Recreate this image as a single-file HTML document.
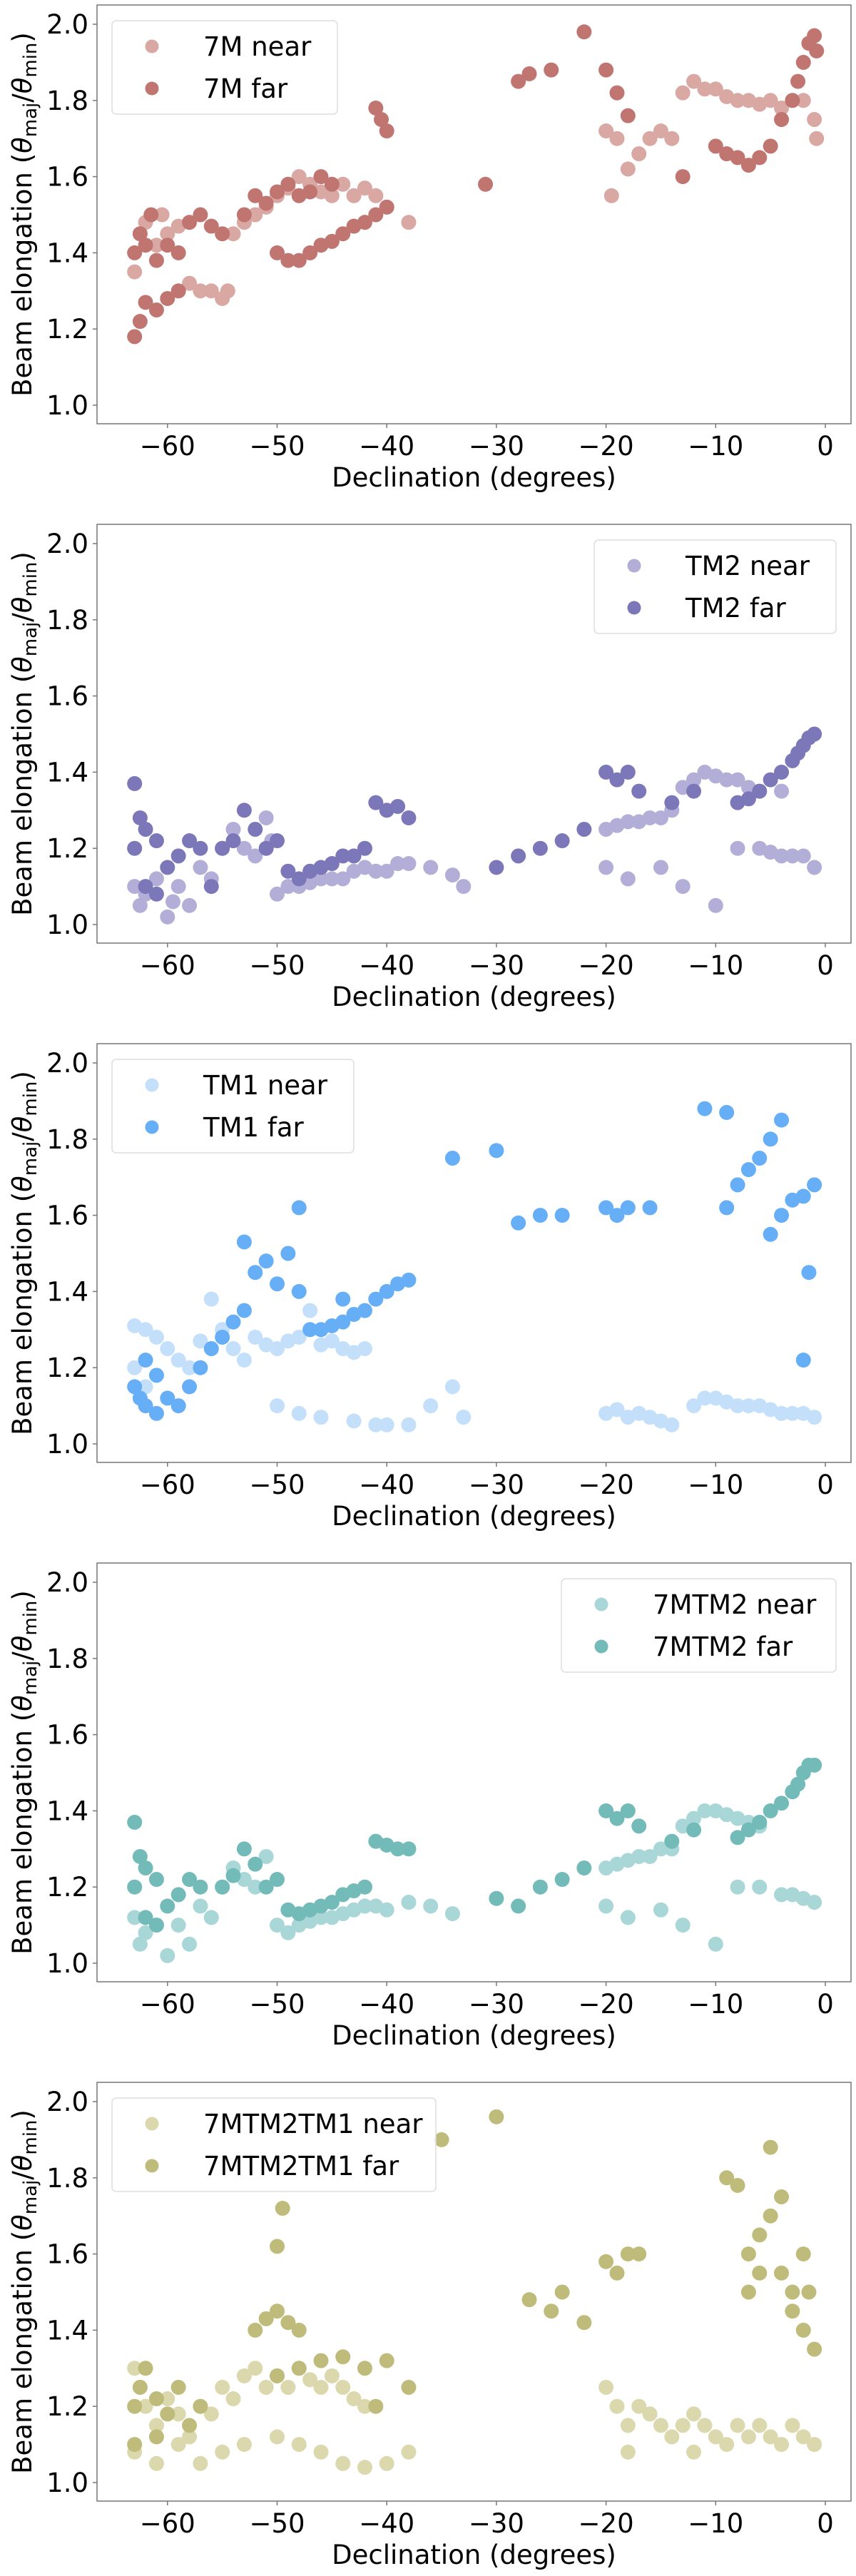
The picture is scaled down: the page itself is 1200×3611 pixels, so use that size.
<!DOCTYPE html>
<html><head><meta charset="utf-8">
<style>
body{margin:0;background:#fff;}
svg{display:block;font-family:"DejaVu Sans","Liberation Sans",sans-serif;}
</style></head>
<body>
<svg id="fig" width="1200" height="3611" viewBox="0 0 1200 3611" xmlns="http://www.w3.org/2000/svg"></svg>
<script>
const xTicks=[-60,-50,-40,-30,-20,-10,0];
const yTicks=[1.0,1.2,1.4,1.6,1.8,2.0];
const panelNames=["7M","TM2","TM1","7MTM2","7MTM2TM1"];
const nearColors=["#d9a8a3","#b3aed8","#c3dffa","#a9d6d6","#dbd8ae"];
const farColors=["#c07571","#7b77b9","#66aef6","#72bbb8","#bfbb7a"];
const legendRight=[false,true,false,true,false];

const near7M=[[-63,1.35],[-62.5,1.45],[-62,1.48],[-61,1.42],[-60.5,1.5],[-60,1.45],[-59,1.47],[-58,1.32],[-57,1.3],[-56,1.3],[-55,1.28],[-54.5,1.3],[-54,1.45],[-53,1.48],[-52,1.5],[-51,1.52],[-50,1.55],[-49,1.57],[-48,1.6],[-47,1.58],[-46,1.56],[-45,1.55],[-44,1.58],[-43,1.55],[-42,1.57],[-41,1.55],[-40,1.52],[-38,1.48],[-20,1.72],[-19.5,1.55],[-19,1.7],[-18,1.62],[-17,1.66],[-16,1.7],[-15,1.72],[-14,1.7],[-13,1.82],[-12,1.85],[-11,1.83],[-10,1.83],[-9,1.81],[-8,1.8],[-7,1.8],[-6,1.79],[-5,1.8],[-4,1.78],[-3,1.8],[-2,1.8],[-1,1.75],[-0.8,1.7]];
const far7M=[[-63,1.4],[-62.5,1.45],[-62,1.42],[-61.5,1.5],[-61,1.38],[-60,1.42],[-59,1.4],[-58,1.48],[-57,1.5],[-56,1.47],[-55,1.45],[-63,1.18],[-62.5,1.22],[-62,1.27],[-61,1.25],[-60,1.28],[-59,1.3],[-53,1.5],[-52,1.55],[-51,1.53],[-50,1.56],[-49,1.58],[-48,1.55],[-47,1.56],[-46,1.6],[-45,1.58],[-50,1.4],[-49,1.38],[-48,1.38],[-47,1.4],[-46,1.42],[-45,1.43],[-44,1.45],[-43,1.47],[-42,1.48],[-41,1.5],[-40,1.52],[-41,1.78],[-40.5,1.75],[-40,1.72],[-31,1.58],[-28,1.85],[-27,1.87],[-25,1.88],[-22,1.98],[-20,1.88],[-19,1.82],[-18,1.76],[-13,1.6],[-10,1.68],[-9,1.66],[-8,1.65],[-7,1.63],[-6,1.65],[-5,1.68],[-4,1.75],[-3,1.8],[-2.5,1.85],[-2,1.9],[-1.5,1.95],[-1,1.97],[-0.8,1.93]];

const nearTM2=[[-63,1.1],[-62.5,1.05],[-62,1.08],[-61,1.12],[-60,1.02],[-59.5,1.06],[-59,1.1],[-58,1.05],[-57,1.15],[-56,1.12],[-55,1.2],[-54,1.25],[-53,1.2],[-52,1.18],[-51,1.28],[-50.5,1.22],[-50,1.08],[-49,1.1],[-48,1.1],[-47,1.11],[-46,1.12],[-45,1.12],[-44,1.12],[-43,1.14],[-42,1.15],[-41,1.14],[-40,1.14],[-39,1.16],[-38,1.16],[-36,1.15],[-34,1.13],[-33,1.1],[-20,1.25],[-19,1.26],[-18,1.27],[-17,1.27],[-16,1.28],[-15,1.28],[-14,1.3],[-13,1.36],[-12,1.38],[-11,1.4],[-10,1.39],[-9,1.38],[-8,1.38],[-7,1.36],[-6,1.35],[-4,1.35],[-20,1.15],[-18,1.12],[-15,1.15],[-13,1.1],[-10,1.05],[-8,1.2],[-6,1.2],[-5,1.19],[-4,1.18],[-3,1.18],[-2,1.18],[-1,1.15]];
const farTM2=[[-63,1.2],[-62.5,1.28],[-62,1.25],[-61,1.22],[-60,1.15],[-59,1.18],[-58,1.22],[-57,1.2],[-63,1.37],[-62,1.1],[-61,1.08],[-56,1.1],[-55,1.2],[-54,1.22],[-53,1.3],[-52,1.25],[-51,1.2],[-50,1.22],[-49,1.14],[-48,1.12],[-47,1.14],[-46,1.15],[-45,1.16],[-44,1.18],[-43,1.18],[-42,1.2],[-41,1.32],[-40,1.3],[-39,1.31],[-38,1.28],[-30,1.15],[-28,1.18],[-26,1.2],[-24,1.22],[-22,1.25],[-20,1.4],[-19,1.38],[-18,1.4],[-17,1.35],[-14,1.32],[-12,1.35],[-8,1.32],[-7,1.33],[-6,1.35],[-5,1.38],[-4,1.4],[-3,1.43],[-2.5,1.45],[-2,1.47],[-1.5,1.49],[-1,1.5]];

const nearTM1=[[-63,1.31],[-62,1.3],[-61,1.28],[-60,1.25],[-59,1.22],[-58,1.2],[-57,1.27],[-56,1.38],[-55,1.3],[-54,1.25],[-53,1.22],[-52,1.28],[-51,1.26],[-50,1.25],[-49,1.27],[-48,1.28],[-47,1.35],[-46,1.26],[-45,1.27],[-44,1.25],[-43,1.24],[-42,1.25],[-63,1.2],[-62,1.15],[-50,1.1],[-48,1.08],[-46,1.07],[-43,1.06],[-41,1.05],[-40,1.05],[-38,1.05],[-36,1.1],[-34,1.15],[-33,1.07],[-20,1.08],[-19,1.09],[-18,1.07],[-17,1.08],[-16,1.07],[-15,1.06],[-14,1.05],[-12,1.1],[-11,1.12],[-10,1.12],[-9,1.11],[-8,1.1],[-7,1.1],[-6,1.1],[-5,1.09],[-4,1.08],[-3,1.08],[-2,1.08],[-1,1.07]];
const farTM1=[[-63,1.15],[-62.5,1.12],[-62,1.1],[-61,1.08],[-60,1.12],[-62,1.22],[-61,1.18],[-59,1.1],[-58,1.15],[-57,1.2],[-56,1.25],[-55,1.28],[-54,1.32],[-53,1.35],[-52,1.45],[-51,1.48],[-50,1.42],[-49,1.5],[-53,1.53],[-48,1.4],[-47,1.3],[-46,1.3],[-45,1.31],[-44,1.32],[-43,1.34],[-42,1.35],[-41,1.38],[-40,1.4],[-39,1.42],[-38,1.43],[-48,1.62],[-44,1.38],[-34,1.75],[-30,1.77],[-28,1.58],[-26,1.6],[-24,1.6],[-20,1.62],[-19,1.6],[-18,1.62],[-16,1.62],[-11,1.88],[-9,1.87],[-9,1.62],[-8,1.68],[-7,1.72],[-6,1.75],[-5,1.8],[-4,1.85],[-5,1.55],[-4,1.6],[-3,1.64],[-2,1.65],[-1,1.68],[-1.5,1.45],[-2,1.22]];

const near7MTM2=[[-63,1.12],[-62.5,1.05],[-62,1.08],[-61,1.1],[-60,1.02],[-59,1.1],[-58,1.05],[-57,1.15],[-56,1.12],[-55,1.2],[-54,1.25],[-53,1.22],[-52,1.2],[-51,1.28],[-50,1.1],[-49,1.08],[-48,1.1],[-47,1.11],[-46,1.12],[-45,1.12],[-44,1.13],[-43,1.14],[-42,1.15],[-41,1.15],[-40,1.14],[-38,1.16],[-36,1.15],[-34,1.13],[-20,1.25],[-19,1.26],[-18,1.27],[-17,1.28],[-16,1.28],[-15,1.3],[-14,1.3],[-13,1.36],[-12,1.38],[-11,1.4],[-10,1.4],[-9,1.39],[-8,1.38],[-7,1.37],[-6,1.36],[-20,1.15],[-18,1.12],[-15,1.14],[-13,1.1],[-10,1.05],[-8,1.2],[-6,1.2],[-4,1.18],[-3,1.18],[-2,1.17],[-1,1.16]];
const far7MTM2=[[-63,1.2],[-62.5,1.28],[-62,1.25],[-61,1.22],[-60,1.15],[-59,1.18],[-58,1.22],[-57,1.2],[-63,1.37],[-62,1.12],[-61,1.1],[-55,1.2],[-54,1.23],[-53,1.3],[-52,1.26],[-51,1.2],[-50,1.22],[-49,1.14],[-48,1.13],[-47,1.14],[-46,1.15],[-45,1.16],[-44,1.18],[-43,1.19],[-42,1.2],[-41,1.32],[-40,1.31],[-39,1.3],[-38,1.3],[-30,1.17],[-28,1.15],[-26,1.2],[-24,1.22],[-22,1.25],[-20,1.4],[-19,1.38],[-18,1.4],[-17,1.36],[-14,1.32],[-12,1.35],[-8,1.33],[-7,1.35],[-6,1.37],[-5,1.4],[-4,1.42],[-3,1.45],[-2.5,1.47],[-2,1.5],[-1.5,1.52],[-1,1.52]];

const near7MTM2TM1=[[-63,1.3],[-62.5,1.25],[-62,1.2],[-61,1.15],[-60,1.22],[-59,1.18],[-58,1.12],[-57,1.2],[-56,1.18],[-55,1.25],[-54,1.22],[-53,1.28],[-52,1.3],[-51,1.25],[-50,1.28],[-49,1.25],[-48,1.3],[-47,1.27],[-46,1.25],[-45,1.28],[-44,1.25],[-43,1.22],[-42,1.2],[-63,1.08],[-61,1.05],[-59,1.1],[-57,1.05],[-55,1.08],[-53,1.1],[-50,1.12],[-48,1.1],[-46,1.08],[-44,1.05],[-42,1.04],[-40,1.05],[-38,1.08],[-20,1.25],[-19,1.2],[-18,1.15],[-17,1.2],[-16,1.18],[-15,1.15],[-14,1.12],[-13,1.15],[-12,1.18],[-11,1.15],[-10,1.12],[-9,1.1],[-8,1.15],[-7,1.12],[-6,1.15],[-5,1.12],[-4,1.1],[-3,1.15],[-2,1.12],[-1,1.1],[-18,1.08],[-12,1.08]];
const far7MTM2TM1=[[-63,1.2],[-62.5,1.25],[-62,1.3],[-61,1.22],[-60,1.18],[-59,1.25],[-58,1.15],[-57,1.2],[-63,1.1],[-61,1.12],[-52,1.4],[-51,1.43],[-50,1.45],[-49,1.42],[-48,1.4],[-50,1.62],[-49.5,1.72],[-50,1.28],[-48,1.3],[-46,1.32],[-44,1.33],[-42,1.3],[-40,1.32],[-38,1.25],[-41,1.2],[-35,1.9],[-30,1.96],[-27,1.48],[-25,1.45],[-24,1.5],[-22,1.42],[-20,1.58],[-19,1.55],[-18,1.6],[-17,1.6],[-9,1.8],[-8,1.78],[-7,1.6],[-6,1.65],[-5,1.7],[-5,1.88],[-4,1.75],[-4,1.55],[-3,1.5],[-7,1.5],[-6,1.55],[-2,1.6],[-1.5,1.5],[-1,1.35],[-2,1.4],[-3,1.45]];

const nearSeries=[near7M,nearTM2,nearTM1,near7MTM2,near7MTM2TM1];
const farSeries=[far7M,farTM2,farTM1,far7MTM2,far7MTM2TM1];

const NS="http://www.w3.org/2000/svg";
const svg=document.getElementById('fig');
const L=136,R=1193,PH=728,TOP=7,BOT=594;
function xs(v){return 1157+v*15.37;}
function ys(v,i){return PH*i+568-(v-1)*534;}
function mk(tag,attrs,parent){const e=document.createElementNS(NS,tag);for(const k in attrs)e.setAttribute(k,attrs[k]);(parent||svg).appendChild(e);return e;}

for(let i=0;i<5;i++){
  const g=mk('g',{});
  
  
  const top=PH*i+TOP,bot=PH*i+BOT;
  const pts=[[nearSeries[i],nearColors[i],'near'],[farSeries[i],farColors[i],'far']];
  for(const [arr,col,kind] of pts){
    for(const p of arr){
      const c=mk('circle',{cx:xs(p[0]),cy:ys(p[1],i),r:10.5,fill:col},g);
      
      
    }
  }
  const fr=mk('rect',{x:L,y:top,width:R-L,height:bot-top,fill:'none',stroke:'#777','stroke-width':1.5},g);
  
  
  for(const t of xTicks){
    const x=xs(t);
    mk('line',{x1:x,x2:x,y1:bot,y2:bot+6,stroke:'#777','stroke-width':1.5},g);
    const tx=mk('text',{x:x,y:bot+44,'font-size':37,'text-anchor':'middle'},g);
    tx.textContent=t<0?'\u2212'+(-t):String(t);
    
    
  }
  for(const t of yTicks){
    const y=ys(t,i);
    mk('line',{x1:L-6,x2:L,y1:y,y2:y,stroke:'#777','stroke-width':1.5},g);
    const ty=mk('text',{x:L-12,y:y+13,'font-size':37,'text-anchor':'end'},g);
    ty.textContent=t.toFixed(1);
    
    
  }
  const xl=mk('text',{x:(L+R)/2,y:bot+88,'font-size':37,'text-anchor':'middle'},g);
  xl.textContent='Declination (degrees)';
  
  
  const cy=(top+bot)/2;
  const yl=mk('text',{x:0,y:0,'font-size':37,'text-anchor':'middle',transform:`translate(44,${cy}) rotate(-90)`},g);
  yl.innerHTML='Beam elongation (<tspan font-style="italic">θ</tspan><tspan font-size="26" dy="7">maj</tspan><tspan dy="-7">/</tspan><tspan font-style="italic">θ</tspan><tspan font-size="26" dy="7">min</tspan><tspan dy="-7">)</tspan>';
  
  
  const label1=panelNames[i]+' near',label2=panelNames[i]+' far';
  const w=label1.length*23+155;
  const lx=legendRight[i]?R-21-w:L+21;
  const ly=top+22;
  const lg=mk('g',{},g);
  
  
  mk('rect',{x:lx,y:ly,width:w,height:131,rx:6,fill:'#fff','fill-opacity':0.8,stroke:'#ddd','stroke-width':1.5},lg);
  [[label1,nearColors[i]],[label2,farColors[i]]].forEach((e,k)=>{
    const yy=ly+36+k*59;
    const m=mk('circle',{cx:lx+56,cy:yy,r:9.5,fill:e[1]},lg);
    
    
    const t=mk('text',{x:lx+128,y:yy+13,'font-size':37},lg);
    t.textContent=e[0];
    
    
  });
}
</script>
</body></html>
